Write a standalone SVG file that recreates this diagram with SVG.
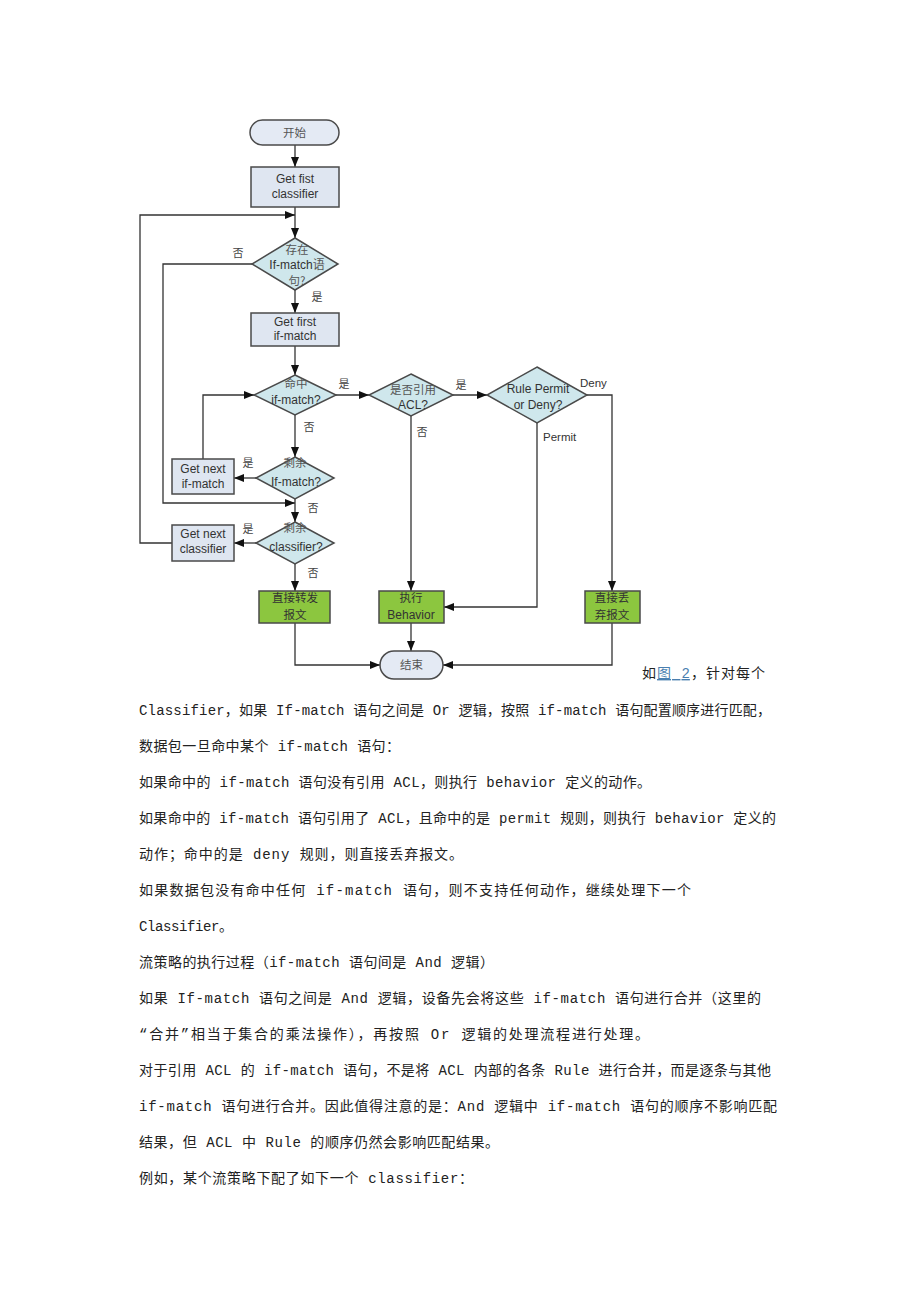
<svg xmlns="http://www.w3.org/2000/svg" width="920" height="1302" viewBox="0 0 920 1302">
<style>
.box{fill:#dfe6f1;stroke:#4a4a4a;stroke-width:1.5}
.dia{fill:#cfe7ec;stroke:#4a4a4a;stroke-width:1.5}
.grn{fill:#8cc63f;stroke:#4a4a4a;stroke-width:1.5}
.term{fill:#e4eaf4;stroke:#4a4a4a;stroke-width:1.5}
.en{font-family:"Liberation Sans",Arial,sans-serif;font-size:12px;fill:#333;text-anchor:middle}
.zh{font-family:"Noto Sans CJK SC",sans-serif;font-size:11.5px;fill:#555;text-anchor:middle}
.lbl{font-family:"Noto Sans CJK SC",sans-serif;font-size:11px;fill:#444;text-anchor:middle}
.conn path{fill:none;stroke:#333;stroke-width:1.3}
.body{font-family:"Liberation Mono","Noto Sans CJK SC",monospace;font-size:14px;fill:#222}
</style>
<defs>
<marker id="ah" markerWidth="10" markerHeight="8" refX="10" refY="4" orient="auto" markerUnits="userSpaceOnUse"><path d="M0,0 L10,4 L0,8 z" fill="#111"/></marker>
</defs>
<rect width="920" height="1302" fill="#fff"/>

<g id="connectors" class="conn">
<path d="M295,145 V167" marker-end="url(#ah)"/>
<path d="M295,207 V238" marker-end="url(#ah)"/>
<path d="M172,543 H140 V215 H295" marker-end="url(#ah)"/>
<path d="M252,264 H163 V503 H295" marker-end="url(#ah)"/>
<path d="M295,290 V313" marker-end="url(#ah)"/>
<path d="M295,346 V375" marker-end="url(#ah)"/>
<path d="M336,395 H369" marker-end="url(#ah)"/>
<path d="M295,415 V457" marker-end="url(#ah)"/>
<path d="M203,459 V395 H254" marker-end="url(#ah)"/>
<path d="M256,478 H234" marker-end="url(#ah)"/>
<path d="M295,499 V522" marker-end="url(#ah)"/>
<path d="M256,543 H234" marker-end="url(#ah)"/>
<path d="M295,564 V591" marker-end="url(#ah)"/>
<path d="M453,395 H487" marker-end="url(#ah)"/>
<path d="M411,416 V591" marker-end="url(#ah)"/>
<path d="M537,423 V607 H444" marker-end="url(#ah)"/>
<path d="M587,395 H612 V591" marker-end="url(#ah)"/>
<path d="M295,623 V665 H380" marker-end="url(#ah)"/>
<path d="M411,623 V651" marker-end="url(#ah)"/>
<path d="M612,623 V665 H443" marker-end="url(#ah)"/>
</g>

<g id="edge-labels">
<text class="lbl" x="238" y="257">否</text>
<text class="lbl" x="317" y="301">是</text>
<text class="lbl" x="344" y="388">是</text>
<text class="lbl" x="309" y="431">否</text>
<text class="lbl" x="461" y="389">是</text>
<text class="lbl" x="422" y="436">否</text>
<text x="580" y="387" style="font-family:'Liberation Sans',Arial,sans-serif;font-size:11.5px;fill:#333">Deny</text>
<text x="543" y="441" style="font-family:'Liberation Sans',Arial,sans-serif;font-size:11.5px;fill:#333">Permit</text>
<text class="lbl" x="248" y="467">是</text>
<text class="lbl" x="313" y="512">否</text>
<text class="lbl" x="248" y="533">是</text>
<text class="lbl" x="313" y="577">否</text>
</g>

<g id="start">
<rect class="term" x="250" y="120" width="89" height="25" rx="12.5"/>
<text class="zh" x="294.5" y="136.5">开始</text>
</g>
<g id="get-first-classifier">
<rect class="box" x="251" y="167" width="88" height="40"/>
<text class="en" x="295" y="183">Get fist</text>
<text class="en" x="295" y="198">classifier</text>
</g>
<g id="exist-ifmatch">
<polygon class="dia" points="295,238 338,264 295,290 252,264"/>
<text class="zh" x="297" y="254">存在</text>
<text class="en" x="297" y="269">If-match<tspan style="font-family:'Noto Sans CJK SC',sans-serif;fill:#555">语</tspan></text>
<text class="zh" x="297" y="285">句?</text>
</g>
<g id="get-first-ifmatch">
<rect class="box" x="251" y="313" width="88" height="33"/>
<text class="en" x="295" y="326">Get first</text>
<text class="en" x="295" y="340">if-match</text>
</g>
<g id="hit-ifmatch">
<polygon class="dia" points="295,375 336,395 295,415 254,395"/>
<text class="zh" x="296" y="388">命中</text>
<text class="en" x="296" y="404">if-match?</text>
</g>
<g id="ref-acl">
<polygon class="dia" points="411,374 453,395 411,416 369,395"/>
<text class="zh" x="413" y="394">是否引用</text>
<text class="en" x="413" y="409">ACL?</text>
</g>
<g id="permit-deny">
<polygon class="dia" points="537,367 587,395 537,423 487,395"/>
<text class="en" x="538" y="393">Rule Permit</text>
<text class="en" x="538" y="409">or Deny?</text>
</g>
<g id="get-next-ifmatch">
<rect class="box" x="172" y="459" width="62" height="35"/>
<text class="en" x="203" y="473">Get next</text>
<text class="en" x="203" y="488">if-match</text>
</g>
<g id="remain-ifmatch">
<polygon class="dia" points="295,457 334,478 295,499 256,478"/>
<text class="zh" x="295" y="467">剩余</text>
<text class="en" x="296" y="486">If-match?</text>
</g>
<g id="get-next-classifier">
<rect class="box" x="172" y="525" width="62" height="36"/>
<text class="en" x="203" y="538">Get next</text>
<text class="en" x="203" y="553">classifier</text>
</g>
<g id="remain-classifier">
<polygon class="dia" points="295,522 334,543 295,564 256,543"/>
<text class="zh" x="295" y="532">剩余</text>
<text class="en" x="296" y="551">classifier?</text>
</g>
<g id="forward">
<rect class="grn" x="259" y="591" width="71" height="32"/>
<text class="zh" x="295" y="602" style="fill:#333">直接转发</text>
<text class="zh" x="295" y="619" style="fill:#333">报文</text>
</g>
<g id="exec-behavior">
<rect class="grn" x="379" y="591" width="65" height="32"/>
<text class="zh" x="411" y="602" style="fill:#333">执行</text>
<text class="en" x="411" y="619">Behavior</text>
</g>
<g id="drop">
<rect class="grn" x="585" y="591" width="55" height="32"/>
<text class="zh" x="612" y="602" style="fill:#333">直接丢</text>
<text class="zh" x="612" y="619" style="fill:#333">弃报文</text>
</g>
<g id="end">
<rect class="term" x="380" y="651" width="63" height="28" rx="14"/>
<text class="zh" x="411.5" y="669">结束</text>
</g>

<g id="paragraphs" class="body">
<text x="642" y="678" textLength="123" lengthAdjust="spacing">如<tspan fill="#4a7fb0" text-decoration="underline">图 2</tspan>，针对每个</text>
<text x="139" y="715" textLength="632" lengthAdjust="spacing">Classifier，如果 If-match 语句之间是 Or 逻辑，按照 if-match 语句配置顺序进行匹配，</text>
<text x="139" y="751" textLength="261" lengthAdjust="spacing">数据包一旦命中某个 if-match 语句：</text>
<text x="139" y="787" textLength="512" lengthAdjust="spacing">如果命中的 if-match 语句没有引用 ACL，则执行 behavior 定义的动作。</text>
<text x="139" y="823" textLength="637" lengthAdjust="spacing">如果命中的 if-match 语句引用了 ACL，且命中的是 permit 规则，则执行 behavior 定义的</text>
<text x="139" y="859" textLength="324" lengthAdjust="spacing">动作；命中的是 deny 规则，则直接丢弃报文。</text>
<text x="139" y="895" textLength="552" lengthAdjust="spacing">如果数据包没有命中任何 if-match 语句，则不支持任何动作，继续处理下一个</text>
<text x="139" y="931" textLength="94" lengthAdjust="spacing">Classifier。</text>
<text x="139" y="967" textLength="355" lengthAdjust="spacing">流策略的执行过程（if-match 语句间是 And 逻辑）</text>
<text x="139" y="1003" textLength="622" lengthAdjust="spacing">如果 If-match 语句之间是 And 逻辑，设备先会将这些 if-match 语句进行合并（这里的</text>
<text x="139" y="1039" textLength="510" lengthAdjust="spacing">“合并”相当于集合的乘法操作），再按照 Or 逻辑的处理流程进行处理。</text>
<text x="139" y="1075" textLength="632" lengthAdjust="spacing">对于引用 ACL 的 if-match 语句，不是将 ACL 内部的各条 Rule 进行合并，而是逐条与其他</text>
<text x="139" y="1111" textLength="638" lengthAdjust="spacing">if-match 语句进行合并。因此值得注意的是：And 逻辑中 if-match 语句的顺序不影响匹配</text>
<text x="139" y="1147" textLength="360" lengthAdjust="spacing">结果，但 ACL 中 Rule 的顺序仍然会影响匹配结果。</text>
<text x="139" y="1183" textLength="334" lengthAdjust="spacing">例如，某个流策略下配了如下一个 classifier：</text>
</g>
</svg>
